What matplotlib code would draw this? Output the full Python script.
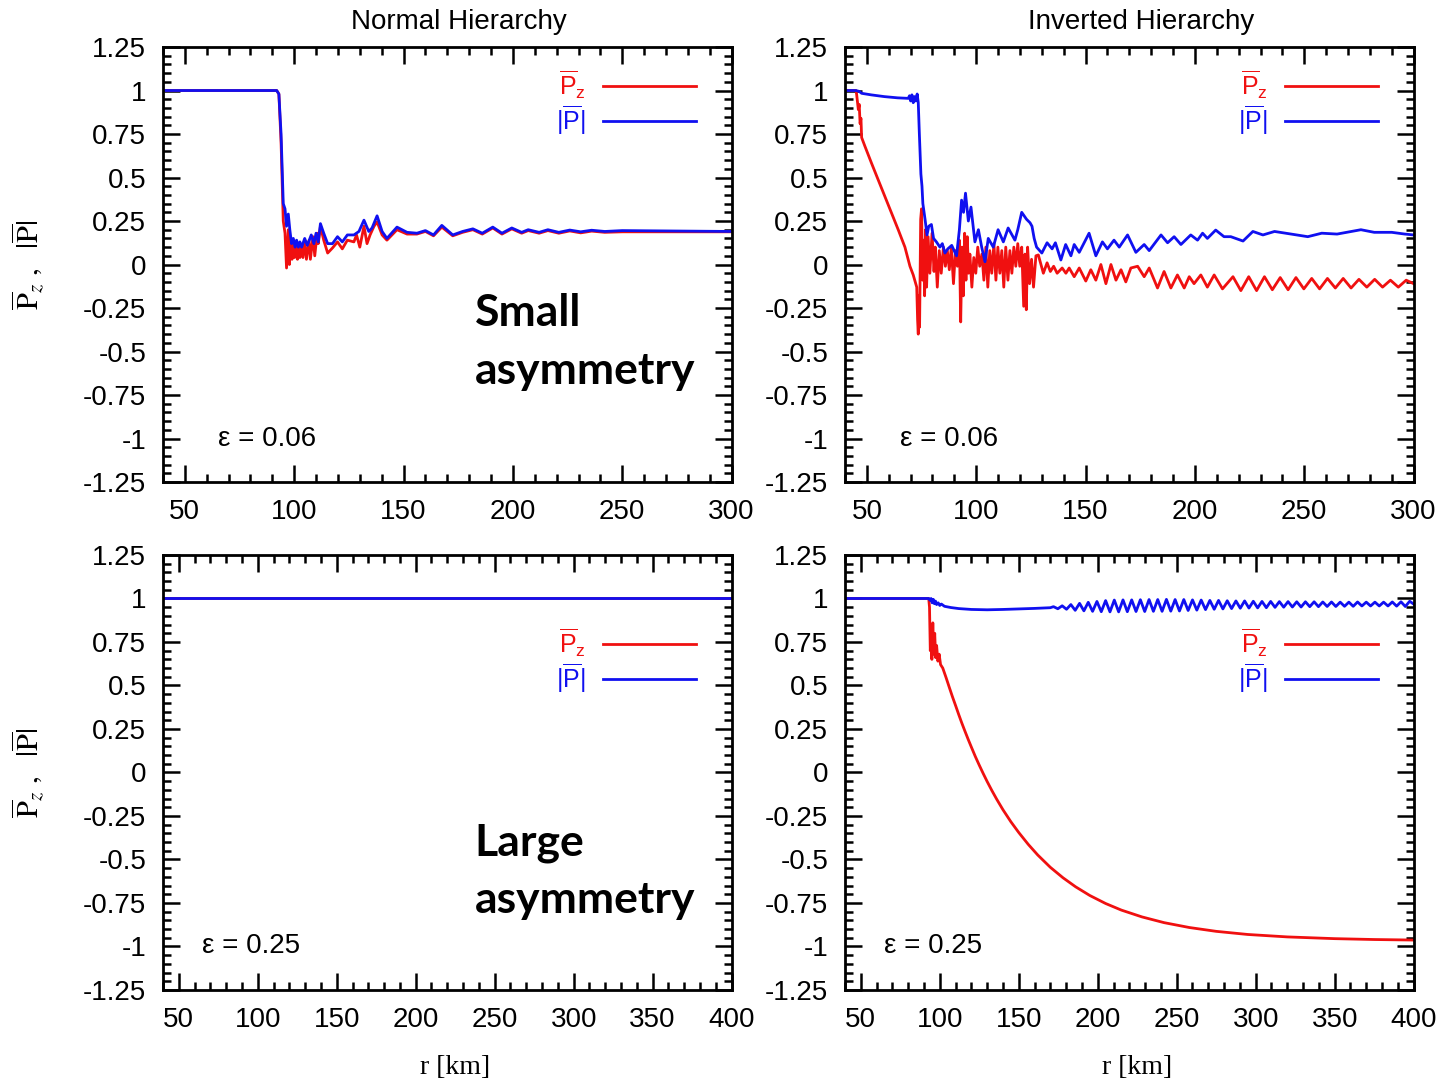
import numpy as np
import matplotlib.pyplot as plt
from matplotlib.ticker import MultipleLocator, FuncFormatter

plt.rcParams['font.family'] = ['Liberation Sans', 'DejaVu Sans']
plt.rcParams['mathtext.fontset'] = 'custom'
plt.rcParams['mathtext.rm'] = 'Liberation Sans'
plt.rcParams['mathtext.it'] = 'Liberation Sans:italic'
plt.rcParams['axes.unicode_minus'] = False

RED = '#f01010'
BLUE = '#1010f0'

# (r [km], value) pairs for each run
nh_small_pz = [
    (40, 1.0), (92, 1.0), (93, 0.98), (94, 0.7), (95, 0.25), (95.8, 0.18), (96.5, -0.02),
    (97.3, 0.2), (97.8, 0.0), (98.4, 0.15), (99.0, 0.03), (99.6, 0.12), (100.2, 0.04),
    (100.9, 0.10), (101.5, 0.03), (102.1, 0.10), (102.6, 0.04), (103.3, 0.11), (104.0, 0.04),
    (104.8, 0.13), (105.6, 0.03), (106.8, 0.14), (107.4, 0.03), (108.6, 0.16), (109.4, 0.05),
    (110.5, 0.18), (111.0, 0.12), (112.0, 0.22), (113.5, 0.14), (115.3, 0.066), (117.5, 0.095),
    (119.8, 0.13), (122, 0.09), (124.3, 0.14), (127.3, 0.13), (128.5, 0.17), (130, 0.10),
    (131.9, 0.22), (133.3, 0.12), (134.7, 0.17), (136.5, 0.22), (137.9, 0.245), (140.2, 0.17),
    (142.4, 0.14), (147, 0.20), (151.6, 0.175), (156.1, 0.175), (160, 0.19), (163.7, 0.165),
    (167.5, 0.215), (172.5, 0.165), (177, 0.185), (181.7, 0.2), (186, 0.175), (190.8, 0.21),
    (195, 0.175), (199.5, 0.205), (204, 0.18), (207, 0.195), (212, 0.18), (216, 0.195),
    (221, 0.18), (226, 0.193), (231, 0.182), (236, 0.192), (242, 0.185), (250, 0.188),
    (300, 0.188),
]
nh_small_p = [
    (40, 1.0), (92, 1.0), (93, 0.98), (94, 0.75), (95, 0.35), (95.8, 0.32), (96.5, 0.22),
    (97.3, 0.29), (98.0, 0.20), (98.8, 0.12), (99.6, 0.15), (100.4, 0.10), (101.1, 0.14),
    (101.9, 0.10), (102.6, 0.13), (103.4, 0.10), (104.8, 0.15), (106.0, 0.11), (107.8, 0.17),
    (109.0, 0.12), (110.0, 0.18), (111.0, 0.13), (112.0, 0.235), (113.5, 0.18), (115.3, 0.12),
    (117.5, 0.12), (119.8, 0.16), (122.0, 0.13), (124.3, 0.17), (127.3, 0.17), (129.6, 0.19),
    (131.9, 0.255), (134.1, 0.19), (135.6, 0.21), (137.9, 0.28), (140.2, 0.19), (142.4, 0.15),
    (147.0, 0.215), (151.6, 0.185), (156.1, 0.18), (160.0, 0.195), (163.7, 0.17), (167.5, 0.225),
    (172.5, 0.17), (177, 0.19), (181.7, 0.205), (186, 0.18), (190.8, 0.215), (195, 0.18),
    (199.5, 0.21), (204, 0.185), (207, 0.20), (212, 0.185), (216, 0.20), (221, 0.185),
    (226, 0.198), (231, 0.188), (236, 0.197), (242, 0.19), (250, 0.195), (300, 0.19),
]

ih_small_pz = [
    (40, 1.0), (45, 1.0), (45.3, 0.98), (46.1, 0.89), (46.5, 0.92), (46.9, 0.81), (47.3, 0.84),
    (47.6, 0.73), (49.1, 0.68), (52.2, 0.58), (55.2, 0.486), (58.3, 0.39), (61.3, 0.295),
    (64.4, 0.198), (67.4, 0.10), (69.7, -0.01), (71.2, -0.06), (72.8, -0.13), (73.2, -0.32),
    (73.5, -0.40), (73.8, -0.18), (74.1, -0.36), (74.6, 0.26), (75.0, 0.32), (75.5, -0.09),
    (75.9, 0.14), (76.4, -0.18), (76.8, 0.2), (77.3, -0.13), (78.0, 0.16), (78.8, -0.05),
    (79.8, 0.18), (80.7, -0.04), (81.3, 0.10), (82.2, -0.13), (83.1, 0.08), (84.0, -0.05),
    (85.0, 0.10), (85.9, -0.01), (86.8, 0.08), (87.7, -0.03), (88.6, 0.10), (89.6, -0.11),
    (90.5, 0.08), (91.4, -0.01), (92.3, 0.14), (92.9, -0.33), (93.5, 0.10), (94.1, -0.18),
    (94.7, 0.18), (95.3, -0.09), (95.9, 0.16), (96.5, -0.05), (97.1, 0.06), (98.0, -0.13),
    (98.9, 0.04), (99.8, -0.05), (100.7, 0.10), (101.6, -0.01), (102.6, 0.06), (103.5, -0.09),
    (104.4, 0.10), (105.3, -0.13), (106.2, 0.08), (107.1, -0.05), (108.1, 0.12), (109.0, -0.09),
    (109.9, 0.10), (110.8, -0.05), (111.7, 0.08), (112.6, -0.13), (113.5, 0.10), (114.5, -0.09),
    (115.4, 0.08), (116.3, -0.05), (117.2, 0.10), (118.1, -0.01), (119.0, 0.12), (119.9, -0.01),
    (120.8, 0.10), (121.7, -0.24), (122.3, 0.06), (122.9, -0.26), (123.5, 0.10), (124.4, -0.11),
    (125.3, 0.03), (126.2, -0.13), (127.3, 0.05), (128.4, 0.055), (130.7, -0.05), (132.4, 0.01),
    (133.9, -0.04), (135.4, -0.01), (137.0, -0.05), (139.3, -0.02), (141.0, -0.05), (142.5, -0.02),
    (144.8, -0.07), (147.1, -0.02), (150.1, -0.095), (152.4, -0.03), (154.7, -0.09), (157.0, 0.0),
    (159.3, -0.11), (161.6, 0.0), (163.9, -0.09), (166.2, -0.03), (168.4, -0.10), (170.7, -0.02),
    (173.8, -0.01), (176.8, -0.07), (179.1, -0.02), (182.9, -0.135), (185.9, -0.04), (189.0, -0.135),
    (192.0, -0.06), (195.1, -0.135), (197.4, -0.07), (199.6, -0.11), (202.7, -0.06), (205.7, -0.13),
    (208.8, -0.06), (212.6, -0.14), (217.4, -0.07), (221.0, -0.15), (224.6, -0.07), (228.2, -0.15),
    (231.8, -0.07), (235.4, -0.145), (239.0, -0.075), (242.6, -0.145), (246.2, -0.075),
    (249.8, -0.14), (253.4, -0.08), (257.0, -0.14), (260.6, -0.08), (264.2, -0.135),
    (267.8, -0.08), (271.4, -0.135), (275.0, -0.085), (278.6, -0.13), (282.2, -0.085),
    (285.8, -0.13), (289.4, -0.09), (293.0, -0.13), (296.6, -0.09), (300, -0.11),
]
ih_small_p = [
    (40, 1.0), (45, 1.0), (46.5, 0.995), (47.6, 0.984), (52, 0.975), (58, 0.965), (64, 0.958),
    (68.9, 0.955), (69.5, 0.97), (70, 0.94), (70.6, 0.975), (71.2, 0.93), (71.8, 0.965),
    (72.4, 0.94), (73, 0.98), (73.5, 0.93), (74, 0.75), (74.7, 0.52), (75.2, 0.45), (75.6, 0.35),
    (76.6, 0.26), (77.5, 0.17), (78.3, 0.22), (79.5, 0.23), (80.5, 0.15), (81.8, 0.13),
    (83.4, 0.10), (84.5, 0.12), (85.7, 0.066), (87, 0.09), (88.8, 0.11), (91, 0.05), (92.3, 0.2),
    (93.3, 0.37), (94.2, 0.3), (95.1, 0.41), (96.4, 0.25), (97.6, 0.33), (99.4, 0.13), (101, 0.2),
    (102.5, 0.1), (104, 0.016), (105.5, 0.15), (107.8, 0.1), (110, 0.2), (112.4, 0.13),
    (114.6, 0.21), (117.7, 0.14), (119, 0.2), (120.8, 0.30), (123, 0.26), (124.6, 0.24),
    (125.5, 0.22), (126.5, 0.15), (127.6, 0.10), (130, 0.066), (132.4, 0.125), (134.7, 0.09),
    (136.2, 0.125), (138.7, 0.026), (140.9, 0.115), (143.3, 0.05), (144.8, 0.115), (147.1, 0.07),
    (151.6, 0.18), (154.7, 0.05), (157.7, 0.13), (160, 0.09), (163, 0.14), (165.4, 0.10),
    (169.2, 0.17), (173, 0.07), (176.8, 0.115), (179.1, 0.08), (184.5, 0.17), (187.5, 0.125),
    (190.5, 0.16), (193.6, 0.115), (198.1, 0.17), (201.2, 0.14), (203.5, 0.18), (205.7, 0.15),
    (209.5, 0.198), (213.3, 0.16), (216.4, 0.16), (222, 0.135), (226.5, 0.19), (231.1, 0.17),
    (236.4, 0.19), (244, 0.175), (251.6, 0.16), (258, 0.18), (265, 0.175), (275.9, 0.2),
    (282, 0.185), (290, 0.185), (296, 0.175), (300, 0.17),
]

nh_large_pz = [(40, 1.0), (400, 1.0)]
nh_large_p = [(40, 1.0), (400, 1.0)]

ih_large_pz = [
    (40, 1.0), (93, 1.0), (93.5, 0.95), (94, 0.70), (94.5, 0.78), (95, 0.65), (95.6, 0.86),
    (96.2, 0.68), (96.8, 0.80), (97.4, 0.66), (98, 0.73), (98.8, 0.64), (99.6, 0.68),
    (100.5, 0.62), (101.9, 0.60), (104, 0.545), (106, 0.49), (108, 0.436), (110, 0.385),
    (112, 0.333), (114, 0.283), (116, 0.236), (118, 0.19), (120, 0.146), (122.5, 0.092),
    (125, 0.042), (127.5, -0.006), (130, -0.052), (133, -0.104), (136, -0.153), (140, -0.214),
    (145, -0.283), (150, -0.345), (156, -0.413), (162, -0.474), (170, -0.545), (178, -0.605),
    (186, -0.657), (195, -0.707), (205, -0.753), (215, -0.791), (228, -0.83), (242, -0.863),
    (258, -0.891), (275, -0.913), (295, -0.931), (320, -0.945), (350, -0.955), (375, -0.96),
    (400, -0.963),
]
ih_large_p = [
    (40, 1.0), (93, 1.0), (93.8, 0.99), (94.5, 1.0), (95.2, 0.975), (95.9, 0.995), (96.6, 0.97),
    (97.3, 0.985), (98, 0.965), (99, 0.975), (100, 0.96), (101, 0.968), (103, 0.955),
    (107, 0.948), (112, 0.942), (120, 0.937), (130, 0.935), (140, 0.937), (150, 0.94),
    (160, 0.943), (170, 0.947),
    (172.0, 0.953), (174.75, 0.941), (177.5, 0.958), (180.25, 0.938), (183.0, 0.965),
    (185.75, 0.932), (188.5, 0.972), (191.25, 0.929), (194.0, 0.978), (196.75, 0.926),
    (199.5, 0.983), (202.25, 0.924), (205.0, 0.988), (207.75, 0.923), (210.5, 0.991),
    (213.25, 0.923), (216.0, 0.992), (218.75, 0.924), (221.5, 0.992), (224.25, 0.925),
    (227.0, 0.993), (229.75, 0.925), (232.5, 0.994), (235.25, 0.926), (238.0, 0.994),
    (240.75, 0.926), (243.5, 0.995), (246.25, 0.927), (249.0, 0.994), (251.75, 0.928),
    (254.5, 0.994), (257.25, 0.931), (260.0, 0.992), (262.75, 0.933), (265.5, 0.991),
    (268.25, 0.936), (271.0, 0.989), (273.75, 0.938), (276.5, 0.989), (279.25, 0.940),
    (282.0, 0.987), (284.75, 0.942), (287.5, 0.986), (290.25, 0.944), (293.0, 0.986),
    (295.75, 0.945), (298.5, 0.984), (301.25, 0.946), (304.0, 0.983), (306.75, 0.947),
    (309.5, 0.983), (312.25, 0.949), (315.0, 0.982), (317.75, 0.950), (320.5, 0.982),
    (323.25, 0.951), (326.0, 0.981), (328.75, 0.951), (331.5, 0.981), (334.25, 0.953),
    (337.0, 0.981), (339.75, 0.953), (342.5, 0.980), (345.25, 0.954), (348.0, 0.980),
    (350.75, 0.954), (353.5, 0.979), (356.25, 0.955), (359.0, 0.979), (361.75, 0.955),
    (364.5, 0.980), (367.25, 0.957), (370.0, 0.979), (372.75, 0.957), (375.5, 0.979),
    (378.25, 0.957), (381.0, 0.979), (383.75, 0.957), (386.5, 0.980), (389.25, 0.956),
    (392.0, 0.981), (394.75, 0.954), (397.5, 0.984), (400, 0.968),
]

titles = ['Normal Hierarchy', 'Inverted Hierarchy']
eps_labels = ['ε = 0.06', 'ε = 0.25']
notes = [('Small', 'asymmetry'), ('Large', 'asymmetry')]
r_max = [300, 400]

panels = [
    [(nh_small_pz, nh_small_p), (ih_small_pz, ih_small_p)],
    [(nh_large_pz, nh_large_p), (ih_large_pz, ih_large_p)],
]

fig = plt.figure(figsize=(14.41, 10.81), dpi=100)
lefts = [0.1131, 0.5864]
bottoms = [0.5541, 0.0842]
W, H = 0.3946, 0.4024

for row in range(2):
    for col in range(2):
        ax = fig.add_axes([lefts[col], bottoms[row], W, H])
        pz, p = panels[row][col]
        r1, v1 = zip(*pz)
        r2, v2 = zip(*p)
        l1, = ax.plot(r1, v1, color=RED, lw=2.0)
        l2, = ax.plot(r2, v2, color=BLUE, lw=2.0)

        ax.set_xlim(40, r_max[row])
        ax.set_ylim(-1.25, 1.25)
        ax.xaxis.set_major_locator(MultipleLocator(50))
        ax.xaxis.set_minor_locator(MultipleLocator(10))
        ax.yaxis.set_major_locator(MultipleLocator(0.25))
        ax.yaxis.set_minor_locator(MultipleLocator(0.05))
        ax.yaxis.set_major_formatter(FuncFormatter(lambda v, _: f'{v:g}'))
        ax.tick_params(which='both', direction='in', top=True, right=True,
                       width=1.8, labelsize=20, pad=12)
        ax.tick_params(which='major', length=12)
        ax.tick_params(which='minor', length=6)
        for s in ax.spines.values():
            s.set_linewidth(2)

        leg_top = 0.95 if row == 0 else 0.835
        ax.legend([l1, l2],
                  [r'$\overline{\mathrm{P}}_{\mathrm{z}}$', r'$|\overline{\mathrm{P}}|$'],
                  loc='upper right', bbox_to_anchor=(0.937, leg_top), frameon=False,
                  markerfirst=False, handlelength=3.7, handletextpad=0.7,
                  labelspacing=0.1, borderpad=0, borderaxespad=0,
                  fontsize=18, labelcolor='linecolor')

        ax.text(65, -1, eps_labels[row], fontsize=20, va='center')

        if row == 0:
            ax.set_title(titles[col], fontsize=20, pad=13, x=0.52)
        if row == 1:
            ax.set_xlabel('r [km]', fontsize=20, fontfamily='Liberation Serif', va='center')
            ax.xaxis.set_label_coords(0.513, -0.179)
        if col == 0:
            ax.set_ylabel(r'$\overline{\mathrm{P}}_z\ ,\ \ |\overline{\mathrm{P}}|$',
                          fontsize=22, math_fontfamily='stix', va='center')
            ax.yaxis.set_label_coords(-0.237, 0.5)
            top_line, bottom_line = notes[row]
            y1, y2 = (0.359, 0.225) if row == 0 else (0.31, 0.177)
            ax.text(0.548, y1, top_line, transform=ax.transAxes, fontfamily='Lato',
                    fontweight='bold', fontsize=32, va='baseline')
            ax.text(0.548, y2, bottom_line, transform=ax.transAxes, fontfamily='Lato',
                    fontweight='bold', fontsize=32, va='baseline')

fig.savefig('out.png', dpi=100)
